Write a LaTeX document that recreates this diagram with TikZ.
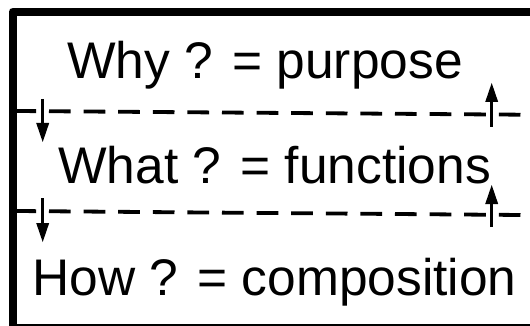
\documentclass[tikz,border=0pt]{standalone}
\usepackage{fontspec}
\setmainfont{Liberation Sans}
\usetikzlibrary{arrows.meta}
\begin{document}
\begin{tikzpicture}[x=1pt,y=-1pt,
  frame/.style={line width=8pt,line join=round},
  sepline/.style={line width=3.8pt,dash pattern=on 21.7pt off 12.9pt,dash phase=1.6pt},
  flow/.style={line width=3pt},
  headdown/.pic={\fill (0,0) -- (-6.5,-19) -- (6.5,-19) -- cycle;},
  headup/.pic={\fill (0,0) -- (-6.5,19) -- (6.5,19) -- cycle;},
  label/.style={anchor=base,inner sep=0pt,font=\fontsize{51.5}{60}\selectfont}]
\useasboundingbox (0,0) rectangle (530,326);
\clip (0,0) rectangle (530,326);
\draw[frame] (12.5,11.7) rectangle (545,327.5);
% separators
\coordinate (s1l) at (16,111);
\coordinate (s1r) at (522,114.7);
\coordinate (s2l) at (16,211);
\coordinate (s2r) at (522,215);
\draw[sepline] (s1l) -- (s1r);
\draw[sepline] (s2l) -- (s2r);
% texts
\node[label] (why) at (265,78.5) {Why ? = purpose};
\node[label] (what) at (274.5,183) {What ? = functions};
\node[label] (how) at (274.5,295) {How ? = composition};
% arrows
\coordinate (a1s) at (42.7,99);
\coordinate (a1e) at (42.7,142);
\coordinate (b1s) at (491.7,127);
\coordinate (b1e) at (491.7,83);
\coordinate (a2s) at (42.7,198);
\coordinate (a2e) at (42.7,242);
\coordinate (b2s) at (491.7,227);
\coordinate (b2e) at (491.7,185);
\draw[flow] (a1s) -- ([yshift=10pt]a1e) pic at (a1e) {headdown};
\draw[flow] (b1s) -- ([yshift=-10pt]b1e) pic at (b1e) {headup};
\draw[flow] (a2s) -- ([yshift=10pt]a2e) pic at (a2e) {headdown};
\draw[flow] (b2s) -- ([yshift=-10pt]b2e) pic at (b2e) {headup};
\end{tikzpicture}
\end{document}
